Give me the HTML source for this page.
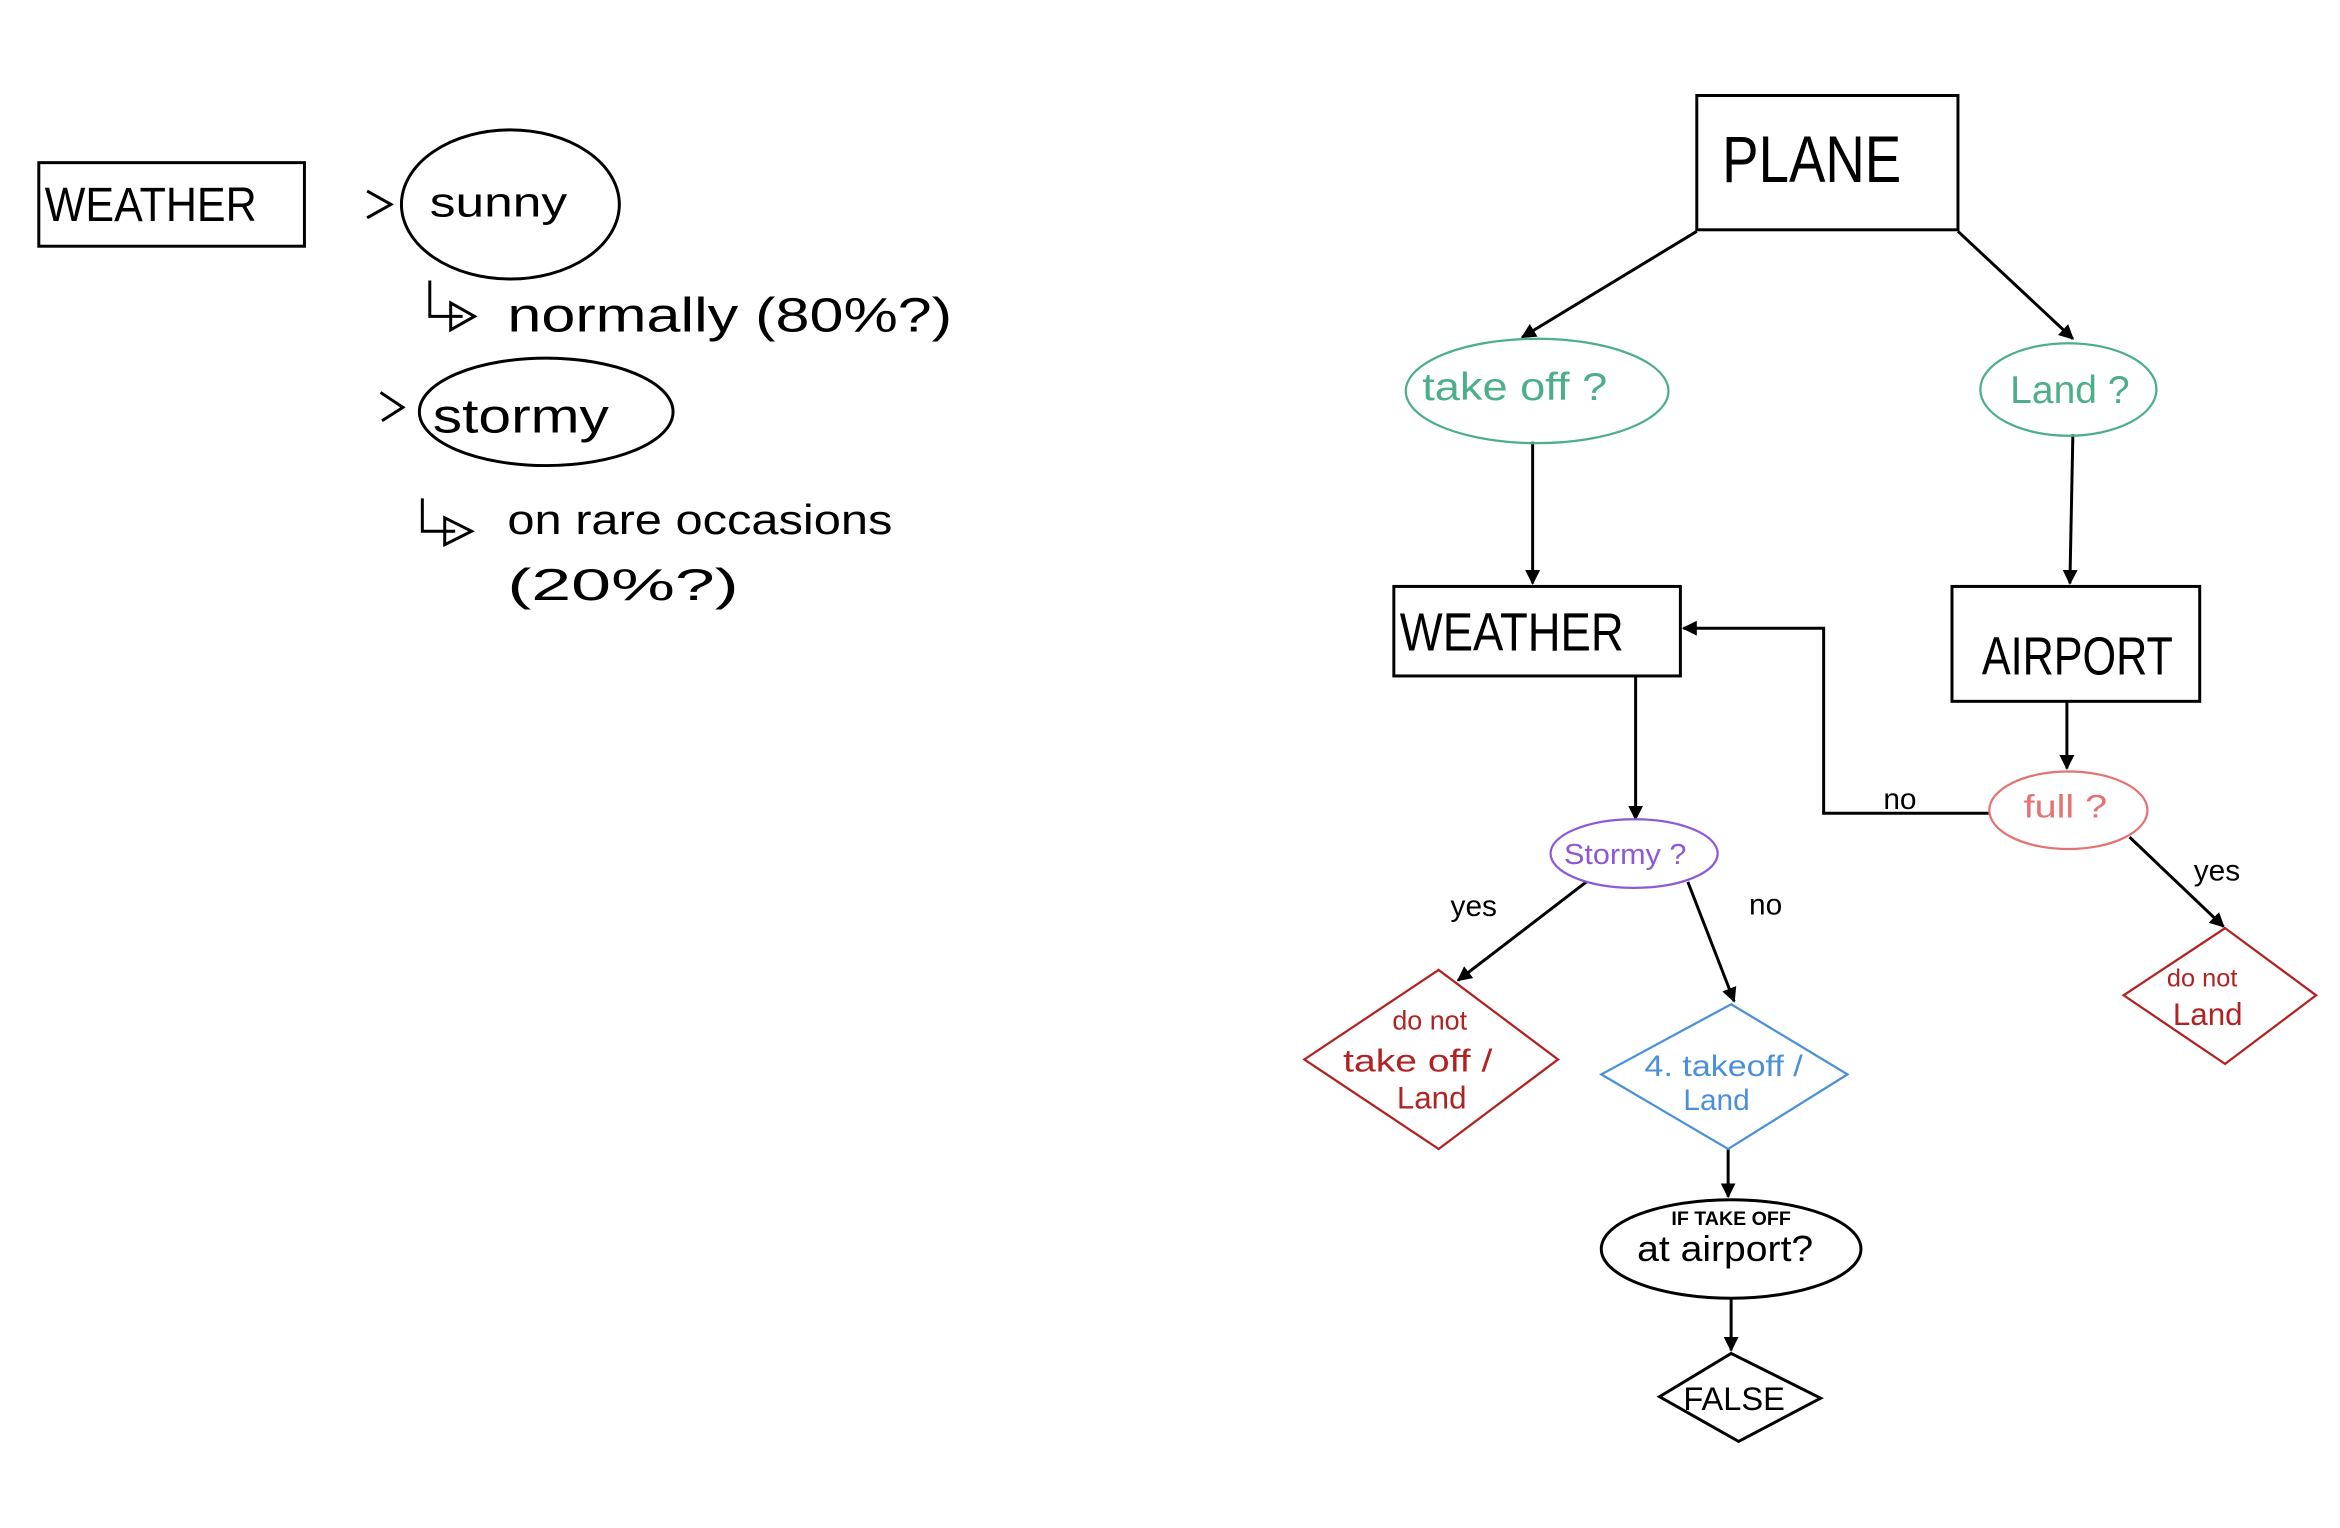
<!DOCTYPE html>
<html><head><meta charset="utf-8"><style>
html,body{margin:0;padding:0;background:#fff;width:2340px;height:1528px;overflow:hidden}
svg{display:block}
text{font-family:"Liberation Sans",sans-serif}
</style></head><body>
<svg width="2340" height="1528" viewBox="0 0 1568 1024" preserveAspectRatio="none" xmlns="http://www.w3.org/2000/svg">
<defs>
<marker id="a" markerWidth="10" markerHeight="10" refX="9" refY="5" orient="auto" markerUnits="userSpaceOnUse"><path d="M0,0 L10,5 L0,10 z" fill="#000"/></marker>
</defs>
<g fill="none" stroke="#000" stroke-width="2">
<rect x="26" y="109" width="178" height="56"/>
<ellipse cx="342" cy="137" rx="73" ry="50"/>
<ellipse cx="366" cy="276" rx="85" ry="36"/>
<path d="M246,128 L262,137 L246,146"/>
<path d="M255,263 L270,273 L256,282"/>
<path d="M288,188 L288,212 L310,212 M302,203 L318,212 L302,221 Z"/>
<path d="M283,334 L283,356 L305,356 M298,347 L316,356 L298,365 Z"/>
<rect x="1137" y="64" width="175" height="90"/>
<rect x="934" y="393" width="192" height="60"/>
<rect x="1308" y="393" width="166" height="77"/>
<ellipse cx="1160" cy="837" rx="87" ry="33"/>
<path d="M1160,907 L1220,937 L1165,966 L1112,936 Z"/>
<path d="M1137,155 L1020,226" marker-end="url(#a)"/>
<path d="M1312,155 L1389,227" marker-end="url(#a)"/>
<path d="M1027,296 L1027,391" marker-end="url(#a)"/>
<path d="M1389,291 L1387,391" marker-end="url(#a)"/>
<path d="M1096,453 L1096,549" marker-end="url(#a)"/>
<path d="M1385,470 L1385,515" marker-end="url(#a)"/>
<path d="M1333,545 L1222,545 L1222,421 L1128,421" marker-end="url(#a)"/>
<path d="M1427,561 L1490,621" marker-end="url(#a)"/>
<path d="M1063,591 L977,657" marker-end="url(#a)"/>
<path d="M1131,591 L1162,671" marker-end="url(#a)"/>
<path d="M1158,770 L1158,802" marker-end="url(#a)"/>
<path d="M1160,870 L1160,905" marker-end="url(#a)"/>
</g>
<ellipse cx="1030" cy="262" rx="88" ry="35" fill="none" stroke="#4caf8a" stroke-width="1.5"/>
<ellipse cx="1386" cy="261" rx="59" ry="31" fill="none" stroke="#4caf8a" stroke-width="1.5"/>
<ellipse cx="1386" cy="543" rx="53" ry="26" fill="none" stroke="#e57373" stroke-width="1.5"/>
<ellipse cx="1095" cy="572" rx="56" ry="23" fill="none" stroke="#8c5ad8" stroke-width="1.5"/>
<path d="M964,650 L1044,710 L964,770 L874,710 Z" fill="none" stroke="#b22222" stroke-width="1.5"/>
<path d="M1491,622 L1552,667 L1491,713 L1423,667 Z" fill="none" stroke="#b22222" stroke-width="1.5"/>
<path d="M1160,673 L1238,720 L1158,770 L1073,720 Z" fill="none" stroke="#4a90d9" stroke-width="1.5"/>
<g fill="#000" font-weight="300">
<text x="30" y="148" font-size="32" textLength="142" lengthAdjust="spacingAndGlyphs">WEATHER</text>
<text x="288" y="145" font-size="28" textLength="92" lengthAdjust="spacingAndGlyphs">sunny</text>
<text x="340" y="222" font-size="32" textLength="298" lengthAdjust="spacingAndGlyphs">normally  (80%?)</text>
<text x="290" y="290" font-size="32" textLength="118" lengthAdjust="spacingAndGlyphs">stormy</text>
<text x="340" y="358" font-size="28" textLength="258" lengthAdjust="spacingAndGlyphs">on rare occasions</text>
<text x="340" y="402" font-size="30" textLength="155" lengthAdjust="spacingAndGlyphs">(20%?)</text>
<text x="1154" y="122" font-size="44" textLength="120" lengthAdjust="spacingAndGlyphs">PLANE</text>
<text x="938" y="436" font-size="36" textLength="150" lengthAdjust="spacingAndGlyphs">WEATHER</text>
<text x="1328" y="452" font-size="36" textLength="128" lengthAdjust="spacingAndGlyphs">AIRPORT</text>
<text x="1262" y="542" font-size="20">no</text>
<text x="1470" y="590" font-size="20">yes</text>
<text x="972" y="614" font-size="20">yes</text>
<text x="1172" y="613" font-size="20">no</text>
<text x="1120" y="821" font-size="13" font-weight="bold" textLength="80" lengthAdjust="spacingAndGlyphs">IF TAKE OFF</text>
<text x="1097" y="845" font-size="24" textLength="118" lengthAdjust="spacingAndGlyphs">at airport?</text>
<text x="1128" y="945" font-size="22" textLength="68" lengthAdjust="spacingAndGlyphs">FALSE</text>
</g>
<text x="953" y="268" font-size="26" fill="#4caf8a" textLength="124" lengthAdjust="spacingAndGlyphs">take off ?</text>
<text x="1347" y="270" font-size="26" fill="#4caf8a" textLength="80" lengthAdjust="spacingAndGlyphs">Land ?</text>
<text x="1356" y="548" font-size="22" fill="#e57373" textLength="56" lengthAdjust="spacingAndGlyphs">full ?</text>
<text x="1048" y="579" font-size="19" fill="#8c5ad8" textLength="82" lengthAdjust="spacingAndGlyphs">Stormy ?</text>
<text x="933" y="690" font-size="18" fill="#b22222">do not</text>
<text x="900" y="718" font-size="21" fill="#b22222" textLength="100" lengthAdjust="spacingAndGlyphs">take off /</text>
<text x="936" y="743" font-size="21" fill="#b22222">Land</text>
<text x="1452" y="661" font-size="17" fill="#b22222">do not</text>
<text x="1456" y="687" font-size="21" fill="#b22222">Land</text>
<text x="1102" y="721" font-size="20" fill="#4a90d9" textLength="106" lengthAdjust="spacingAndGlyphs">4. takeoff /</text>
<text x="1128" y="744" font-size="20" fill="#4a90d9">Land</text>
</svg>
</body></html>
